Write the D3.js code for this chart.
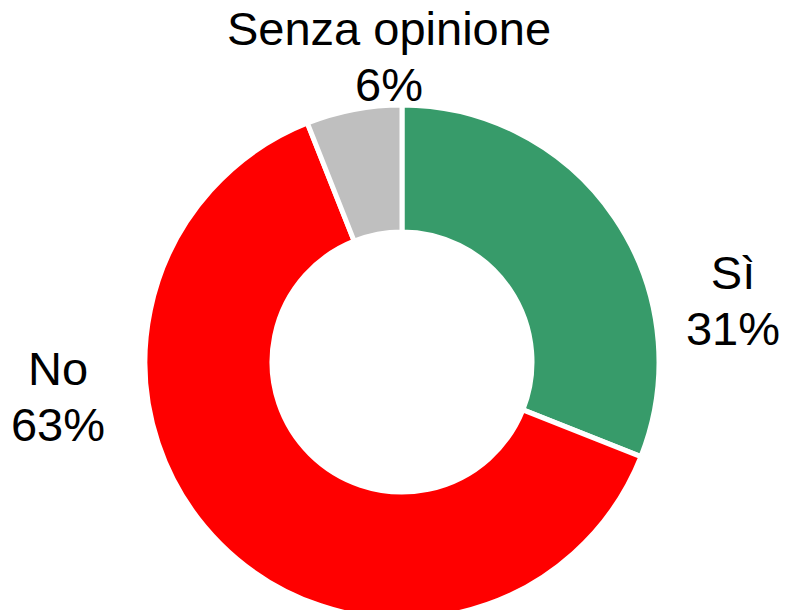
<!DOCTYPE html>
<html>
<head>
<meta charset="utf-8">
<script src="https://cdn.jsdelivr.net/npm/d3@7"></script>
<style>
body { margin:0; background:#fff; }
text { font-family: "Liberation Sans", Arial, sans-serif; }
</style>
</head>
<body>
<svg width="788" height="610"></svg>
<script>
var categories = ["Sì", "No", "Senza opinione"];
var values = [31, 63, 6];
var colors = ["#379b6a", "#ff0000", "#bfbfbf"];

var svg = d3.select("svg"),
    cx = 402, cy = 362,
    outerR = 257, innerR = 130;

var g = svg.append("g")
    .attr("transform", "translate(" + cx + "," + cy + ")");

var pie = d3.pie().sort(null).value(function(d){ return d; });
var arc = d3.arc().innerRadius(innerR).outerRadius(outerR);

var arcs = pie(values);

g.selectAll("path")
  .data(arcs)
  .enter().append("path")
  .attr("d", arc)
  .attr("fill", function(d,i){ return colors[i]; })
  .attr("stroke", "#fff")
  .attr("stroke-width", 5);

// label spots, relative to the centre (excel-ish placement)
var labelOffset = [[331, -73], [-344, 23], [-13, -317]];

var lab = g.selectAll(".lab")
  .data(arcs)
  .enter().append("text")
  .attr("class", "lab")
  .attr("text-anchor", "middle")
  .attr("font-size", "47px")
  .attr("fill", "#000")
  .attr("transform", function(d,i){ return "translate(" + labelOffset[i][0] + "," + labelOffset[i][1] + ")"; });

lab.append("tspan")
  .attr("x", 0)
  .attr("y", 0)
  .text(function(d,i){ return categories[i]; });
lab.append("tspan")
  .attr("x", 0)
  .attr("y", 56)
  .text(function(d){ return d.value + "%"; });
</script>
</body>
</html>
